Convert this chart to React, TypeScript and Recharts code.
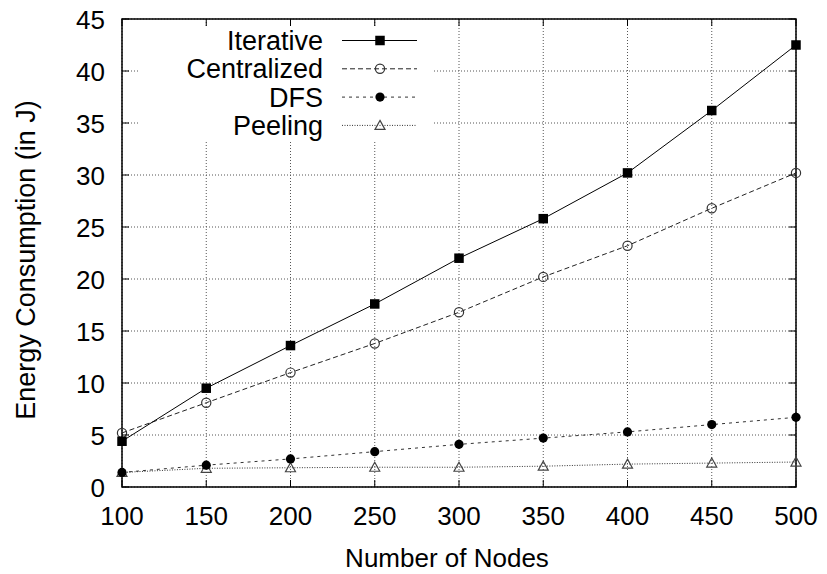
import React from 'react';
import { LineChart, Line, XAxis, YAxis, CartesianGrid, Legend, ReferenceArea, Label } from 'recharts';

const nodes = [100, 150, 200, 250, 300, 350, 400, 450, 500];
const iterative = [4.4, 9.5, 13.6, 17.6, 22.0, 25.8, 30.2, 36.2, 42.5];
const centralized = [5.2, 8.1, 11.0, 13.8, 16.8, 20.2, 23.2, 26.8, 30.2];
const dfs = [1.4, 2.1, 2.7, 3.4, 4.1, 4.7, 5.3, 6.0, 6.7];
const peeling = [1.4, 1.8, 1.85, 1.9, 1.9, 2.0, 2.2, 2.3, 2.4];

const xTicks = [100, 150, 200, 250, 300, 350, 400, 450, 500];
const yTicks = [0, 5, 10, 15, 20, 25, 30, 35, 40, 45];
const seriesNames = ['Iterative', 'Centralized', 'DFS', 'Peeling'];
const xTitle = 'Number of Nodes';
const yTitle = 'Energy Consumption (in J)';

const data = nodes.map((n, i) => ({
  nodes: n,
  iterative: iterative[i],
  centralized: centralized[i],
  dfs: dfs[i],
  peeling: peeling[i],
}));

const W = 827;
const H = 574;
const PL = 122;
const PR = 796;
const PT = 19;
const PB = 487;
const FONT = '"Liberation Sans", Arial, Helvetica, sans-serif';
const FS = 26;
const FS_BIG = 27;
const TICK = 7;

type Kind = 'square' | 'circleOpen' | 'circle' | 'triangle';

const styles: { key: string; kind: Kind; dash?: string; color: string }[] = [
  { key: 'iterative', kind: 'square', dash: undefined, color: '#000' },
  { key: 'centralized', kind: 'circleOpen', dash: '5 3', color: '#222' },
  { key: 'dfs', kind: 'circle', dash: '3 4', color: '#333' },
  { key: 'peeling', kind: 'triangle', dash: '1 1.5', color: '#333' },
];

function marker(kind: Kind, cx: number, cy: number, key?: string | number) {
  if (cx == null || cy == null) return <g key={key} />;
  switch (kind) {
    case 'square':
      return <rect key={key} x={cx - 4.75} y={cy - 4.75} width={9.5} height={9.5} fill="#000" />;
    case 'circleOpen':
      return <circle key={key} cx={cx} cy={cy} r={4.6} fill="none" stroke="#333" strokeWidth={1.2} />;
    case 'circle':
      return <circle key={key} cx={cx} cy={cy} r={4.6} fill="#000" />;
    case 'triangle':
      return (
        <path
          key={key}
          d={`M${cx},${cy - 5} L${cx + 5},${cy + 4} L${cx - 5},${cy + 4} Z`}
          fill="none"
          stroke="#444"
          strokeWidth={1.2}
        />
      );
  }
}

const YTick = (props: any) => {
  const y = props.y;
  return (
    <g>
      <line x1={PL} x2={PL + TICK} y1={y} y2={y} stroke="#000" strokeWidth={1} />
      <line x1={PR} x2={PR - TICK} y1={y} y2={y} stroke="#000" strokeWidth={1} />
      <text x={PL - 17} y={y + 9.5} textAnchor="end" fontSize={FS} fontFamily={FONT} fill="#000">
        {props.payload.value}
      </text>
    </g>
  );
};

const XTick = (props: any) => {
  const x = props.x;
  return (
    <g>
      <line x1={x} x2={x} y1={PB} y2={PB - TICK} stroke="#000" strokeWidth={1} />
      <line x1={x} x2={x} y1={PT} y2={PT + TICK} stroke="#000" strokeWidth={1} />
      <text x={x} y={PB + 38} textAnchor="middle" fontSize={FS} fontFamily={FONT} fill="#000">
        {props.payload.value}
      </text>
    </g>
  );
};

const LEG_L = 140;
const LEG_T = 27;
const LEG_W = 292;
const LEG_H = 114;

const LegendBox = () => (
  <svg width={LEG_W} height={LEG_H} style={{ display: 'block', overflow: 'visible' }}>
    {styles.map((s, i) => {
      const y = 13.5 + i * 28.3;
      return (
        <g key={s.key}>
          <text x={183} y={y + 9.5} textAnchor="end" fontSize={FS_BIG} fontFamily={FONT} fill="#000">
            {seriesNames[i]}
          </text>
          <line x1={202} x2={277} y1={y} y2={y} stroke={s.color} strokeWidth={1} strokeDasharray={s.dash} />
          {marker(s.kind, 240, y)}
        </g>
      );
    })}
  </svg>
);

export default function App() {
  return (
    <div style={{ position: 'absolute', left: 0, top: 0, width: W, height: H, background: '#fff' }}>
      <LineChart width={W} height={H} data={data} margin={{ top: PT, right: W - PR, left: 0, bottom: 0 }}>
        <CartesianGrid stroke="#555" strokeDasharray="1 2" strokeWidth={1} />
        <XAxis
          dataKey="nodes"
          type="number"
          domain={[100, 500]}
          ticks={xTicks}
          height={H - PB}
          axisLine={false}
          tickLine={false}
          tick={<XTick />}
          interval={0}
        >
          <Label
            content={() => (
              <text x={447} y={567} textAnchor="middle" fontSize={FS} fontFamily={FONT} fill="#000">
                {xTitle}
              </text>
            )}
          />
        </XAxis>
        <YAxis
          type="number"
          domain={[0, 45]}
          ticks={yTicks}
          width={PL}
          axisLine={false}
          tickLine={false}
          tick={<YTick />}
          interval={0}
        >
          <Label
            content={() => (
              <text
                transform={`translate(35, 260) rotate(-90)`}
                textAnchor="middle"
                fontSize={FS_BIG}
                fontFamily={FONT}
                fill="#000"
              >
                {yTitle}
              </text>
            )}
          />
        </YAxis>
        <ReferenceArea x1={100} x2={500} y1={0} y2={45} fill="none" stroke="#000" strokeWidth={1.5} ifOverflow="visible" />
        <Legend
          layout="vertical"
          align="center"
          verticalAlign="middle"
          wrapperStyle={{ position: 'absolute', left: LEG_L, top: LEG_T, width: LEG_W, height: LEG_H, background: '#fff' }}
          content={() => <LegendBox />}
        />
        {styles.slice().reverse().map((s) => (
          <Line
            key={s.key}
            type="linear"
            dataKey={s.key}
            name={seriesNames[styles.indexOf(s)]}
            stroke={s.color}
            strokeWidth={1}
            strokeDasharray={s.dash}
            isAnimationActive={false}
            dot={(p: any) => marker(s.kind, p.cx, p.cy, `${s.key}-${p.index}`)}
            activeDot={false}
          />
        ))}
      </LineChart>
    </div>
  );
}
